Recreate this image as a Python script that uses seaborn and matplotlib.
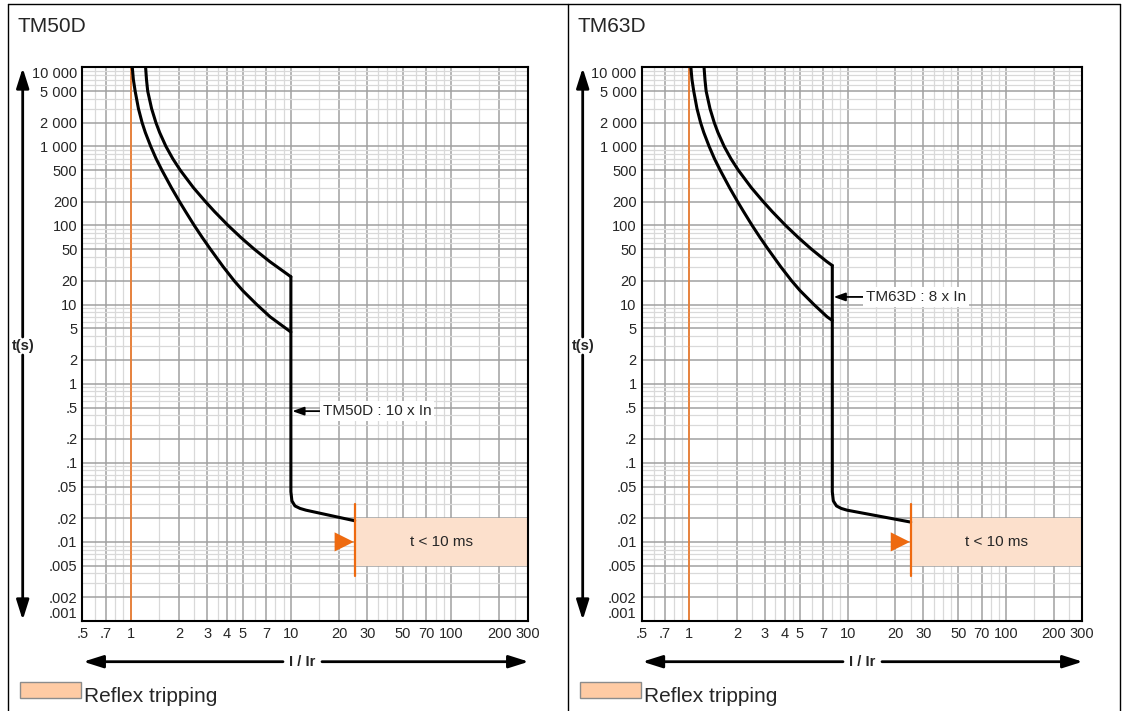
import numpy as np
import matplotlib.pyplot as plt
import seaborn as sns
from matplotlib.patches import FancyArrowPatch, Rectangle, ArrowStyle
from matplotlib.lines import Line2D
from matplotlib.ticker import NullFormatter

sns.set_style("white")
plt.rcParams['font.family'] = ['Liberation Sans', 'DejaVu Sans']

# axis ticks (I / Ir and t in seconds)
I_TICKS = [0.5, 0.7, 1, 2, 3, 4, 5, 7, 10, 20, 30, 50, 70, 100, 200, 300]
I_LABELS = ['.5', '.7', '1', '2', '3', '4', '5', '7', '10', '20', '30', '50', '70', '100', '200', '300']
I_MINOR = [0.6, 0.8, 0.9, 1.5, 2.5, 3.5, 4.5, 6, 8, 9, 15, 25, 35, 40, 45, 60, 80, 90, 150, 250]
T_TICKS = [10000, 5000, 2000, 1000, 500, 200, 100, 50, 20, 10, 5, 2, 1,
           0.5, 0.2, 0.1, 0.05, 0.02, 0.01, 0.005, 0.002, 0.001]
T_LABELS = ['10 000', '5 000', '2 000', '1 000', '500', '200', '100', '50', '20', '10', '5', '2', '1',
            '.5', '.2', '.1', '.05', '.02', '.01', '.005', '.002', '.001']
T_MINOR = [m * 10.0 ** e for e in range(-3, 4) for m in (3, 4, 6, 7, 8, 9)]

# reflex tripping zone
REFLEX_I = [25, 300]
REFLEX_T = [0.005, 0.02]
REFLEX_MARK_T = [0.0037, 0.03]
TRIANGLE_I, TRIANGLE_T = 21.5, 0.01

# TM50D curves
tm50_low_t = [10000, 7000, 5000, 3000, 2000, 1500, 1000, 700, 500, 300, 200,
              150, 100, 70, 50, 30, 20, 15, 10, 7, 4.5]
tm50_low_I = [1.025, 1.041, 1.068, 1.12, 1.18, 1.236, 1.336, 1.443, 1.569, 1.799, 2.021,
              2.204, 2.497, 2.807, 3.153, 3.786, 4.429, 5.012, 6.131, 7.425, 10]
tm50_up_t = [10000, 7000, 5000, 3000, 2000, 1500, 1000, 700, 500, 300, 200,
             150, 100, 70, 50, 35, 22.5]
tm50_up_I = [1.241, 1.257, 1.279, 1.353, 1.439, 1.518, 1.662, 1.833, 2.042, 2.469, 2.934,
             3.34, 4.062, 4.898, 5.924, 7.383, 10]
tm50_inst_I = [10, 10, 10.15, 10.6, 11.4, 12.4, 25]
tm50_inst_t = [22.5, 0.043, 0.033, 0.0285, 0.0265, 0.0252, 0.0185]

# TM63D curves
tm63_low_t = [10000, 7000, 5000, 3000, 2000, 1500, 1000, 700, 500, 300, 200,
              150, 100, 70, 50, 30, 20, 15, 10, 7, 6.3]
tm63_low_I = [1.025, 1.041, 1.068, 1.12, 1.18, 1.236, 1.336, 1.443, 1.569, 1.799, 2.021,
              2.204, 2.497, 2.807, 3.153, 3.786, 4.429, 5.012, 6.131, 7.425, 8]
tm63_up_t = [10000, 7000, 5000, 3000, 2000, 1500, 1000, 700, 500, 300, 200,
             150, 100, 70, 50, 35, 31.2]
tm63_up_I = [1.241, 1.257, 1.279, 1.353, 1.439, 1.518, 1.662, 1.833, 2.042, 2.469, 2.934,
             3.34, 4.062, 4.898, 5.924, 7.383, 8]
tm63_inst_I = [8, 8, 8.12, 8.5, 9.1, 9.9, 25]
tm63_inst_t = [31.2, 0.043, 0.033, 0.0285, 0.0265, 0.0252, 0.0178]

W, H = 1127, 711
fig = plt.figure(figsize=(W / 100, H / 100), dpi=100)


def fx(px):
    return px / W


def fy(py):
    return 1 - py / H


def farrow(p0, p1, lw=2.0, hl=1.2, hw=0.38):
    fig.add_artist(FancyArrowPatch((fx(p0[0]), fy(p0[1])), (fx(p1[0]), fy(p1[1])),
                                   transform=fig.transFigure,
                                   arrowstyle=ArrowStyle('-|>', head_length=hl, head_width=hw),
                                   mutation_scale=10, lw=lw, color='black',
                                   shrinkA=0, shrinkB=0))


def draw_panel(off, ax_left, ax_right, title, curves, note, note_tip, note_start, note_t):
    ax_top, ax_bot = 67.3, 621
    ax = fig.add_axes([fx(ax_left), fy(ax_bot), fx(ax_right - ax_left), (ax_bot - ax_top) / H])
    ax.set_xscale('log')
    ax.set_yscale('log')
    ax.set_xlim(0.5, 300)
    ax.set_ylim(0.001, 10000)
    ax.set_xticks(I_TICKS, labels=I_LABELS)
    ax.set_xticks(I_MINOR, minor=True)
    ax.set_yticks(T_TICKS, labels=T_LABELS)
    ax.set_yticks(T_MINOR, minor=True)
    ax.xaxis.set_minor_formatter(NullFormatter())
    ax.yaxis.set_minor_formatter(NullFormatter())
    ax.tick_params(which='both', length=0, labelsize=10.5)
    ax.tick_params(axis='y', pad=3.5)
    ax.tick_params(axis='x', pad=4)
    ax.set_axisbelow(True)
    ax.grid(which='minor', color='#d9d9d9', lw=0.9)
    ax.grid(which='major', color='#a0a0a0', lw=1.1)
    for s in ax.spines.values():
        s.set_linewidth(1.5)
        s.set_color('black')
        s.set_zorder(6)
    for lbl in ax.get_yticklabels():
        if lbl.get_text() == '10 000':
            lbl.set_va('top')
        elif lbl.get_text() == '.001':
            lbl.set_va('bottom')

    ax.axvline(1, color='#F07A2A', lw=1.2, zorder=2)
    ax.fill_between(REFLEX_I, REFLEX_T[0], REFLEX_T[1], color='#FCE0CC', lw=0, zorder=2)
    ax.text(np.sqrt(REFLEX_I[0] * REFLEX_I[1]), np.sqrt(REFLEX_T[0] * REFLEX_T[1]), 't < 10 ms',
            ha='center', va='center', fontsize=11, zorder=3)

    for xs, ys in curves:
        sns.lineplot(x=xs, y=ys, ax=ax, color='black', linewidth=2.2, sort=False,
                     estimator=None, zorder=4, solid_joinstyle='round')

    ax.plot([REFLEX_I[0], REFLEX_I[0]], REFLEX_MARK_T, color='#EE6A10', lw=1.6, zorder=5)
    sns.scatterplot(x=[TRIANGLE_I], y=[TRIANGLE_T], ax=ax, marker='>', s=190,
                    color='#EE6A10', edgecolor='none', zorder=5)

    ax.annotate(note, xy=(note_tip, note_t), xytext=(note_start, note_t),
                ha='left', va='center', fontsize=11, zorder=5,
                bbox=dict(boxstyle='square,pad=0.2', fc='white', ec='none'),
                arrowprops=dict(arrowstyle=ArrowStyle('-|>', head_length=0.7, head_width=0.25),
                                color='black', lw=1.3, shrinkA=0, shrinkB=0, mutation_scale=10))

    # panel title
    fig.text(fx(off + 17), fy(31.7), title, fontsize=15, va='baseline')

    # t(s) vertical double arrow
    xa = off + 22.7
    farrow((xa, 337), (xa, 68))
    farrow((xa, 355), (xa, 620))
    fig.text(fx(xa + 0.5), fy(346), 't(s)', fontsize=10.5, weight='bold', ha='center', va='center')

    # I / Ir horizontal double arrow
    yc = 661.7
    cx = off + 302
    farrow((cx - 19, yc), (ax_left + 1, yc))
    farrow((cx + 20, yc), (ax_right + 1, yc))
    fig.text(fx(cx), fy(yc), 'I / Ir', fontsize=10.5, weight='bold', ha='center', va='center')

    # legend
    fig.add_artist(Rectangle((fx(off + 19.5), fy(698.3)), fx(61.5), 16 / H,
                             transform=fig.transFigure, fc='#FFCBA4', ec='#8c8c8c', lw=1))
    fig.text(fx(off + 84), fy(701.5), 'Reflex tripping', fontsize=15, va='baseline')
    return ax


draw_panel(0, 82.3, 527.7, 'TM50D',
           [(tm50_low_I, tm50_low_t), (tm50_up_I, tm50_up_t), (tm50_inst_I, tm50_inst_t)],
           'TM50D : 10 x In', 10.2, 15.8, 0.45)
draw_panel(560, 641.5, 1081.7, 'TM63D',
           [(tm63_low_I, tm63_low_t), (tm63_up_I, tm63_up_t), (tm63_inst_I, tm63_inst_t)],
           'TM63D : 8 x In', 8.15, 13.1, 12.5)

# frame borders
for xb in (7.5, 567.5, 1120):
    fig.add_artist(Line2D([fx(xb), fx(xb)], [fy(3.5), fy(711)], transform=fig.transFigure,
                          color='black', lw=1))
fig.add_artist(Line2D([fx(7.5), fx(1120)], [fy(3.5), fy(3.5)], transform=fig.transFigure,
                      color='black', lw=1))

fig.savefig('out.png', dpi=100)
